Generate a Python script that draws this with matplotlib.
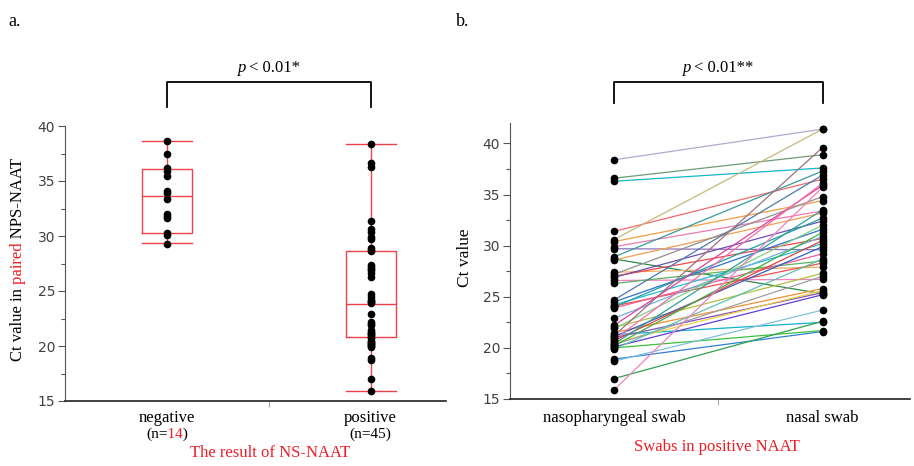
import matplotlib
matplotlib.use("Agg")
import matplotlib.pyplot as plt
from matplotlib.transforms import IdentityTransform, blended_transform_factory, Bbox
from matplotlib.ticker import MultipleLocator, FixedLocator

# ---------------- data ----------------
categories_a = ["negative", "positive"]
counts_a = ["14", "45"]
negative_ct = [38.6, 37.5, 36.2, 35.9, 35.5, 34.1, 33.9, 33.4, 32.0, 31.8, 31.6, 30.3, 30.1, 29.3]
positive_ct = [38.4, 36.6, 36.3, 31.4, 30.6, 30.4, 29.9, 29.7, 28.9, 28.7, 28.6, 27.4, 27.2, 27.0,
               26.9, 26.6, 26.3, 24.7, 24.5, 24.2, 24.1, 24.0, 23.9, 22.9, 22.2, 22.0, 21.9, 21.5,
               21.3, 21.2, 21.1, 21.0, 20.8, 20.7, 20.5, 20.4, 20.3, 20.2, 20.1, 20.0, 19.9, 18.9,
               18.7, 17.0, 15.9]
# box statistics as drawn in the reference
box_q1 = [30.3, 20.8]
box_med = [33.65, 23.8]
box_q3 = [36.05, 28.6]
box_lo = [29.35, 15.9]
box_hi = [38.65, 38.4]

categories_b = ["nasopharyngeal swab", "nasal swab"]
nps_ct = positive_ct
nasal_ct = [41.4, 38.9, 37.6, 36.5, 41.4, 34.4, 33.4, 29.6, 37.3, 25.3, 33.2, 27.9, 34.8, 30.7,
            32.4, 26.7, 28.5, 36.9, 31.6, 30.2, 28.3, 32.7, 29.2, 30.9, 35.9, 27.3, 32.0, 25.8,
            22.5, 39.6, 29.9, 25.4, 36.1, 30.5, 25.6, 33.5, 27.0, 31.3, 25.2, 21.7, 28.7, 21.6,
            23.7, 22.6, 35.7]
line_colors = ["#b8a8d0", "#6e9a78", "#10b8c8", "#f06a6a", "#c8b878", "#f0a040", "#f07ab0", "#9070c0",
               "#3a9aa0", "#2e8a4a", "#f0a050", "#f0b060", "#909090", "#f04848", "#7050b0", "#f080c0",
               "#60b060", "#4a7ab0", "#3070d0", "#20c0d0", "#f05050", "#20a0a0", "#f06090", "#70b0e0",
               "#e040a0", "#b0c040", "#80d080", "#f09030", "#10b0d0", "#a07080", "#3060c0", "#8050c0",
               "#f070b0", "#e84040", "#f0d040", "#30a0a0", "#a0a0a0", "#40b040", "#6040d0", "#40c040",
               "#60c0b0", "#3080d0", "#80c0e0", "#30a050", "#f080c0"]

RED = "#ee1c25"
BOXRED = "#f0404a"
W, H = 914, 466
SERIF = "Liberation Serif"

fig = plt.figure(figsize=(W / 100, H / 100), dpi=100)


def fxy(px, py):
    return px / W, 1 - py / H


def add_axes_px(left, top, right, bottom):
    x0, y0 = fxy(left, bottom)
    x1, y1 = fxy(right, top)
    return fig.add_axes([x0, y0, x1 - x0, y1 - y0])


axa = add_axes_px(65, 126, 446, 401)
axb = add_axes_px(510, 123, 910, 399)

for ax in (axa, axb):
    for s in ("top", "right"):
        ax.spines[s].set_visible(False)
    ax.spines["left"].set_color("#555555")
    ax.spines["bottom"].set_color("#222222")
    ax.spines["bottom"].set_linewidth(1.2)
    ax.yaxis.set_major_locator(MultipleLocator(5))
    ax.yaxis.set_minor_locator(MultipleLocator(2.5))
    ax.tick_params(axis="y", which="major", length=5, width=0.8, color="#555555",
                   labelsize=10, labelcolor="#404040", pad=2)
    ax.tick_params(axis="y", which="minor", length=3, width=0.8, color="#555555")
    ax.xaxis.set_major_locator(FixedLocator([]))
    ax.xaxis.set_minor_locator(FixedLocator([0.5]))
    ax.tick_params(axis="x", which="minor", length=4, width=0.8, color="#aaaaaa", direction="out")

# ---------------- panel a ----------------
stats = []
for i, c in enumerate(categories_a):
    stats.append(dict(label=c, med=box_med[i], q1=box_q1[i], q3=box_q3[i],
                      whislo=box_lo[i], whishi=box_hi[i], fliers=[]))
lp = dict(color=BOXRED, linewidth=1.0)
axa.bxp(stats, positions=[0, 1], widths=0.245, capwidths=0.245, showfliers=False,
        boxprops=lp, whiskerprops=lp, capprops=lp, medianprops=lp, manage_ticks=False)
axa.plot([0] * len(negative_ct), negative_ct, "o", color="black", ms=4.5, zorder=4)
axa.plot([1] * len(positive_ct), positive_ct, "o", color="black", ms=4.5, zorder=4)
axa.set_xlim(-0.5, 1.37)
axa.set_ylim(15, 40)

# ---------------- panel b ----------------
for i in range(len(nps_ct)):
    axb.plot([0, 1], [nps_ct[i], nasal_ct[i]], color=line_colors[i % len(line_colors)], lw=0.9, zorder=2)
axb.plot([0] * len(nps_ct), nps_ct, "o", color="black", ms=4.5, zorder=4)
axb.plot([1] * len(nasal_ct), nasal_ct, "o", color="black", ms=4.5, zorder=4)
axb.set_xlim(-0.5, 1.42)
axb.set_ylim(15, 42)

# ---------------- text helpers ----------------
renderer = fig.canvas.get_renderer()


def text_px(px, py, s, **kw):
    return fig.text(px, H - py, s, transform=IdentityTransform(), **kw)


def data_x_px(ax, x):
    return ax.transData.transform((x, 0))[0]


def extent(s, vertical=False, **kw):
    t = fig.text(0, 0, s, rotation=90 if vertical else 0, **kw)
    e = t.get_window_extent(renderer)
    t.remove()
    return e.height if vertical else e.width


def segmented_text(cx, cy, pieces, vertical=False, **kw):
    """Draw the full string once per colour, clipped to the span of that piece."""
    full = "".join(p[0] for p in pieces)
    total = extent(full, vertical, **kw)
    start = (H - cy) - total / 2 if vertical else cx - total / 2
    bounds = [-1e4]
    prefix = ""
    for s, _ in pieces[:-1]:
        prefix += s
        bounds.append(start + extent(prefix.rstrip(" "), vertical, **kw) + 0.5)
    bounds.append(1e4)
    for k, (s, c) in enumerate(pieces):
        if vertical:
            t = fig.text(cx, H - cy, full, color=c, rotation=90, ha="center", va="center",
                         transform=IdentityTransform(), **kw)
            t.set_clip_box(Bbox.from_extents(-1e4, bounds[k], 1e4, bounds[k + 1]))
        else:
            t = fig.text(cx, H - cy, full, color=c, ha="center", va="center",
                         transform=IdentityTransform(), **kw)
            t.set_clip_box(Bbox.from_extents(bounds[k], -1e4, bounds[k + 1], 1e4))
        t.set_clip_on(True)


serif12 = dict(family=SERIF, fontsize=12)

# panel labels
text_px(8, 22, "a.", ha="left", va="center", family=SERIF, fontsize=13)
text_px(456, 22, "b.", ha="left", va="center", family=SERIF, fontsize=13)

# panel a category labels
for i, c in enumerate(categories_a):
    x = data_x_px(axa, i)
    text_px(x, 418, c, ha="center", va="center", color="black", **serif12)
    segmented_text(x, 434, [("(n=", "black"), (counts_a[i], RED if i == 0 else "black"), (")", "black")],
                   family=SERIF, fontsize=11)
text_px(270, 453, "The result of NS-NAAT", ha="center", va="center", color=RED, **serif12)
segmented_text(18, 259, [("Ct value in", "black"), (" paired", RED), (" NPS-NAAT", "black")],
               vertical=True, family=SERIF, fontsize=12)

# panel b category labels
for i, c in enumerate(categories_b):
    x = data_x_px(axb, i)
    text_px(x, 418, c, ha="center", va="center", color="black", **serif12)
text_px(717, 447, "Swabs in positive NAAT", ha="center", va="center", color=RED, **serif12)
text_px(465, 258, "Ct value", rotation=90, ha="center", va="center", color="black",
        family=SERIF, fontsize=12.5)


# significance brackets
def bracket(ax, top_py, bottom_py, stars):
    tr = blended_transform_factory(ax.transData, IdentityTransform())
    yt, yb = H - top_py, H - bottom_py
    ax.plot([0, 0, 1, 1], [yb, yt, yt, yb], color="black", lw=1.3, transform=tr, clip_on=False)
    xm = (data_x_px(ax, 0) + data_x_px(ax, 1)) / 2
    rest = "< 0.01" + stars
    kw = dict(family=SERIF, fontsize=12)
    wp = extent("p", style="italic", **kw)
    wr = extent(rest, **kw)
    gap = 3.0
    left = xm - (wp + gap + wr) / 2
    fig.text(left, H - 68, "p", style="italic", ha="left", va="center", transform=IdentityTransform(), **kw)
    fig.text(left + wp + gap, H - 68, rest, ha="left", va="center", transform=IdentityTransform(), **kw)


bracket(axa, 82, 107, "*")
bracket(axb, 82, 103, "**")

fig.savefig("out.png", dpi=100)
